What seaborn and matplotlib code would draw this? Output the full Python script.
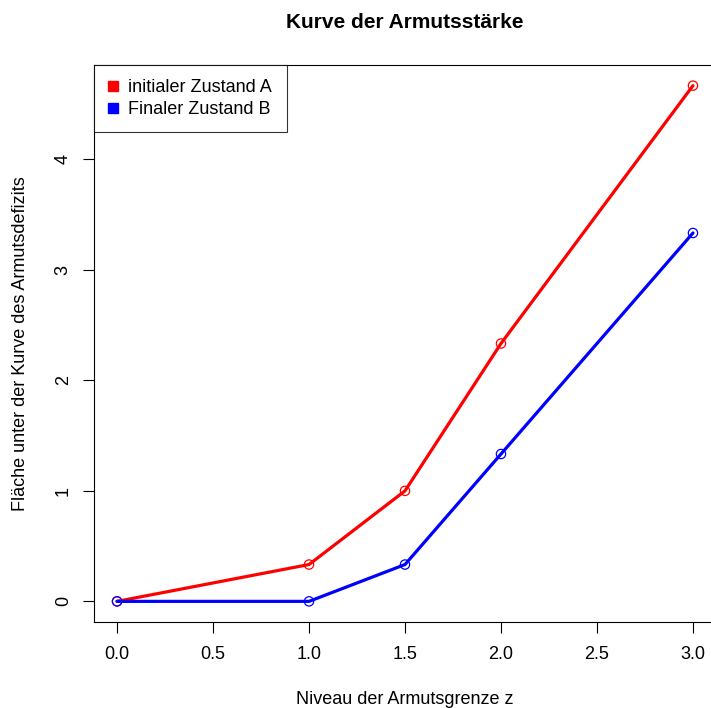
import pandas as pd
import matplotlib
matplotlib.use("Agg")
import matplotlib.pyplot as plt
import seaborn as sns
from matplotlib.lines import Line2D

# Data
z_levels = [0.0, 1.0, 1.5, 2.0, 3.0]
area_a = [0.0, 1 / 3, 1.0, 7 / 3, 14 / 3]
area_b = [0.0, 0.0, 1 / 3, 4 / 3, 10 / 3]
series_names = ["initialer Zustand A", "Finaler Zustand B"]
series_colors = ["#FF0000", "#0000FF"]

df = pd.DataFrame({
    "z": z_levels * 2,
    "flaeche": area_a + area_b,
    "zustand": [series_names[0]] * len(z_levels) + [series_names[1]] * len(z_levels),
})

sns.set_style("ticks")
plt.rcParams["font.family"] = ["Liberation Sans", "DejaVu Sans"]
plt.rcParams["text.color"] = "black"
plt.rcParams["axes.labelcolor"] = "black"

fig = plt.figure(figsize=(7.11, 7.08), dpi=100)
# box runs past the right edge, like the R device output
ax = fig.add_axes([94 / 711, 86 / 708, 622 / 711, 557 / 708])

palette = dict(zip(series_names, series_colors))
sns.lineplot(data=df, x="z", y="flaeche", hue="zustand", palette=palette,
             linewidth=2.3, legend=False, ax=ax)
sns.scatterplot(data=df, x="z", y="flaeche", hue="zustand", palette=palette,
                marker="o", s=45, linewidth=0.9, legend=False, ax=ax, zorder=3)
pts = ax.collections[-1]
pts.set_facecolor("none")
pts.set_edgecolor([palette[h] for h in df["zustand"]])

xr = 3.0 * 0.04
ax.set_xlim(0 - xr, 3.0 + xr)
ymax = max(area_a)
ax.set_ylim(0 - ymax * 0.04, ymax * 1.04)
ax.set_xticks([0.0, 0.5, 1.0, 1.5, 2.0, 2.5, 3.0])
ax.set_xticklabels(["0.0", "0.5", "1.0", "1.5", "2.0", "2.5", "3.0"])
ax.set_yticks([0, 1, 2, 3, 4])
ax.tick_params(axis="both", labelsize=13, length=8, width=0.8, colors="black")
ax.tick_params(axis="x", pad=9)
ax.tick_params(axis="y", pad=8)
plt.setp(ax.get_yticklabels(), rotation=90, va="center")
for s in ax.spines.values():
    s.set_visible(True)
    s.set_linewidth(0.8)
    s.set_color("black")

ax.set_xlabel("Niveau der Armutsgrenze z", fontsize=13, color="black")
ax.set_ylabel("Fläche unter der Kurve des Armutsdefizits", fontsize=13, color="black")
ax.xaxis.set_label_coords(0.5, (622 - 699) / 557)
ax.xaxis.label.set_va("center")
ax.yaxis.set_label_coords((20 - 94) / 622, 0.5)
ax.yaxis.label.set_va("center")
ax.text((405 - 94) / 622, (622 - 23) / 557, "Kurve der Armutsstärke",
        transform=ax.transAxes, ha="center", va="center",
        fontsize=15, fontweight="bold", color="black")

handles = [Line2D([], [], marker="s", linestyle="none", color=c, markersize=6.5)
           for c in series_colors]
leg = ax.legend(handles, series_names, loc="upper left", bbox_to_anchor=(0, 1),
                fontsize=13, frameon=True, fancybox=False, borderaxespad=0,
                handletextpad=0.55, borderpad=0.8, labelspacing=0.25,
                handlelength=0.55)
leg.get_frame().set_edgecolor("black")
leg.get_frame().set_linewidth(0.8)
for t in leg.get_texts():
    t.set_color("black")

fig.savefig("out.png", dpi=100)
